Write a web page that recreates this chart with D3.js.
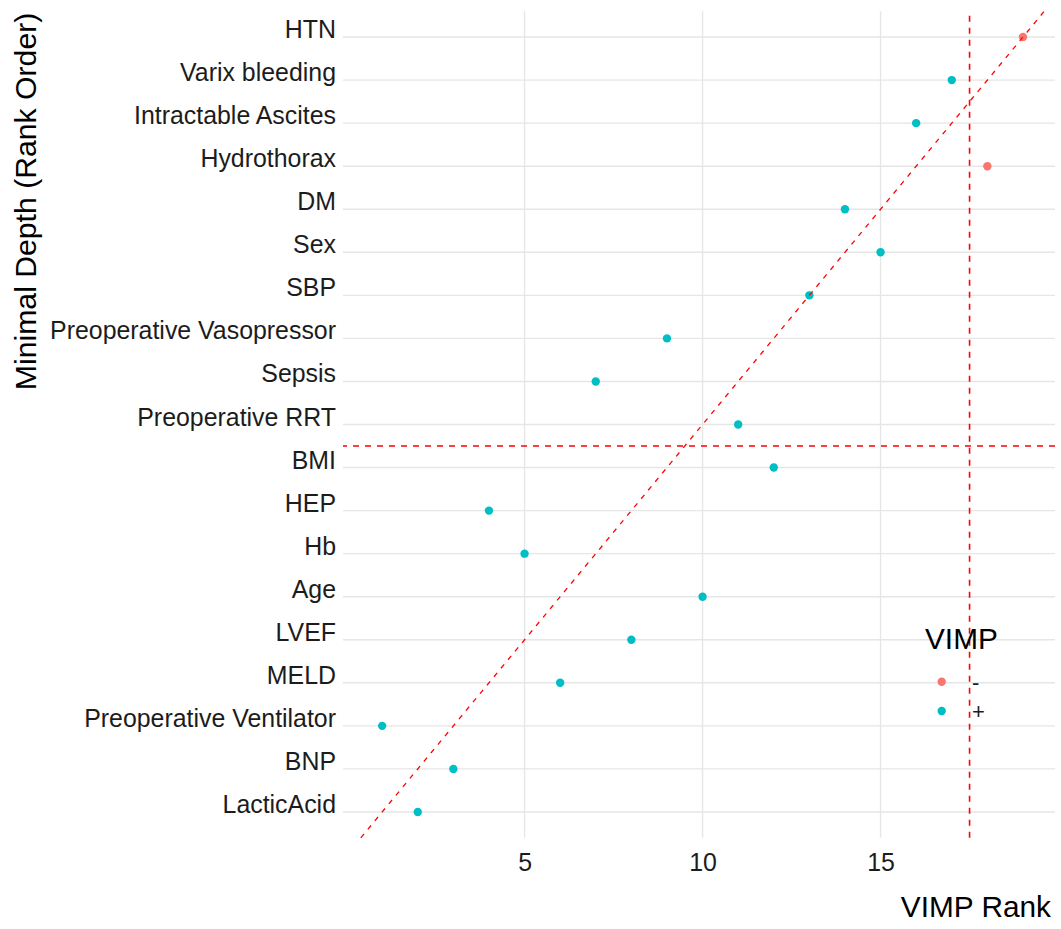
<!DOCTYPE html>
<html>
<head>
<meta charset="utf-8">
<script src="https://cdn.jsdelivr.net/npm/d3@7"></script>
<style>
  html, body { margin: 0; padding: 0; background: #fff; }
  svg { display: block; font-family: "Liberation Sans", Arial, sans-serif; }
</style>
</head>
<body>
<svg id="chart" width="1061" height="929"></svg>
<script>
// Variables in minimal-depth rank order (top = rank 1 of depth)
const variables = [
  "HTN", "Varix bleeding", "Intractable Ascites", "Hydrothorax", "DM", "Sex", "SBP",
  "Preoperative Vasopressor", "Sepsis", "Preoperative RRT", "BMI", "HEP", "Hb", "Age",
  "LVEF", "MELD", "Preoperative Ventilator", "BNP", "LacticAcid"
];
// VIMP rank of each variable
const vimpRank = [19, 17, 16, 18, 14, 15, 13, 9, 7, 11, 12, 4, 5, 10, 8, 6, 1, 3, 2];
// Sign of VIMP for each variable
const vimpSign = ["-", "+", "+", "-", "+", "+", "+", "+", "+", "+", "+", "+", "+", "+", "+", "+", "+", "+", "+"];
// Selection thresholds
const depthCutoff = 9.5;
const vimpCutoff = 17.5;
const xTicks = [5, 10, 15];
const signLevels = ["-", "+"];
const signColors = ["#F8766D", "#00BFC4"];

const n = variables.length;
const data = variables.map((v, i) => ({
  name: v,
  pos: n - i,          // discrete y position, bottom = 1
  rank: vimpRank[i],
  sign: vimpSign[i]
}));

const svg = d3.select("#chart");
const panel = { left: 343, right: 1055, top: 11.2, bottom: 837.8 };

const x = d3.scaleLinear().domain([-0.1, 19.9]).range([panel.left, panel.right]);
const y = d3.scaleLinear().domain([0.4, n + 0.6]).range([panel.bottom, panel.top]);
const color = d3.scaleOrdinal().domain(signLevels).range(signColors);

const gridColor = "#E6E6E6";
const labelFont = "'Liberation Sans', Arial, sans-serif";

// Horizontal grid lines at each variable
svg.append("g").selectAll("line").data(data).join("line")
  .attr("x1", panel.left).attr("x2", panel.right)
  .attr("y1", d => y(d.pos)).attr("y2", d => y(d.pos))
  .attr("stroke", gridColor).attr("stroke-width", 1.4);

// Vertical grid lines
svg.append("g").selectAll("line").data(xTicks).join("line")
  .attr("x1", d => x(d)).attr("x2", d => x(d))
  .attr("y1", panel.top).attr("y2", panel.bottom)
  .attr("stroke", gridColor).attr("stroke-width", 1.4);

// Y axis labels
const yAxis = d3.axisLeft(y)
  .tickValues(data.map(d => d.pos))
  .tickFormat(p => data.find(d => d.pos === p).name)
  .tickSize(0).tickPadding(7);
const gy = svg.append("g").attr("transform", `translate(${panel.left},0)`).call(yAxis);
gy.select(".domain").remove();
gy.selectAll("text").attr("font-size", 24.9).attr("fill", "#1c1c1c")
  .attr("font-family", labelFont).attr("dy", "0.02em");

// X axis labels
const xAxis = d3.axisBottom(x).tickValues(xTicks).tickFormat(d3.format("d")).tickSize(0).tickPadding(16);
const gx = svg.append("g").attr("transform", `translate(0,${panel.bottom})`).call(xAxis);
gx.select(".domain").remove();
gx.selectAll("text").attr("font-size", 24.9).attr("fill", "#1c1c1c")
  .attr("font-family", labelFont);

// Points
svg.append("g").selectAll("circle").data(data).join("circle")
  .attr("cx", d => x(d.rank)).attr("cy", d => y(d.pos))
  .attr("r", 4.2).attr("fill", d => color(d.sign));

// Reference lines
const refs = svg.append("g").attr("fill", "none").attr("stroke", "#FF0000");
// y = x diagonal, clipped to panel
const lo = Math.max(x.domain()[0], y.domain()[0]);
const hi = Math.min(x.domain()[1], y.domain()[1]);
refs.append("line")
  .attr("x1", x(lo)).attr("y1", y(lo)).attr("x2", x(hi)).attr("y2", y(hi))
  .attr("stroke-width", 1.3).attr("stroke-dasharray", "5,6");
// Minimal depth cut
refs.append("line")
  .attr("x1", panel.right).attr("x2", panel.left)
  .attr("y1", y(depthCutoff)).attr("y2", y(depthCutoff))
  .attr("stroke-width", 1.6).attr("stroke-dasharray", "6,6");
// VIMP cut
refs.append("line")
  .attr("x1", x(vimpCutoff)).attr("x2", x(vimpCutoff))
  .attr("y1", panel.bottom).attr("y2", panel.top)
  .attr("stroke-width", 1.6).attr("stroke-dasharray", "6,6");

// Axis titles
svg.append("text")
  .attr("x", panel.right - 4).attr("y", 916.5)
  .attr("text-anchor", "end").attr("font-size", 29.8).attr("fill", "#000")
  .text("VIMP Rank");
svg.append("text")
  .attr("transform", `translate(36,${panel.top + 1.5}) rotate(-90)`)
  .attr("text-anchor", "end").attr("font-size", 30.2).attr("fill", "#000")
  .text("Minimal Depth (Rank Order)");

// Legend
const legend = svg.append("g").attr("transform", "translate(925,649)");
legend.append("text").attr("x", 0).attr("y", 0)
  .attr("font-size", 29.8).attr("fill", "#000").text("VIMP");
const items = legend.selectAll("g.item").data(signLevels).join("g")
  .attr("class", "item")
  .attr("transform", (d, i) => `translate(0,${32.7 + i * 29.3})`);
items.append("circle").attr("cx", 16.7).attr("cy", 0).attr("r", 4.2)
  .attr("fill", d => color(d));
items.append("text").attr("x", 47).attr("y", 8)
  .attr("font-size", 22).attr("fill", "#1c1c1c").text(d => d);
</script>
</body>
</html>
